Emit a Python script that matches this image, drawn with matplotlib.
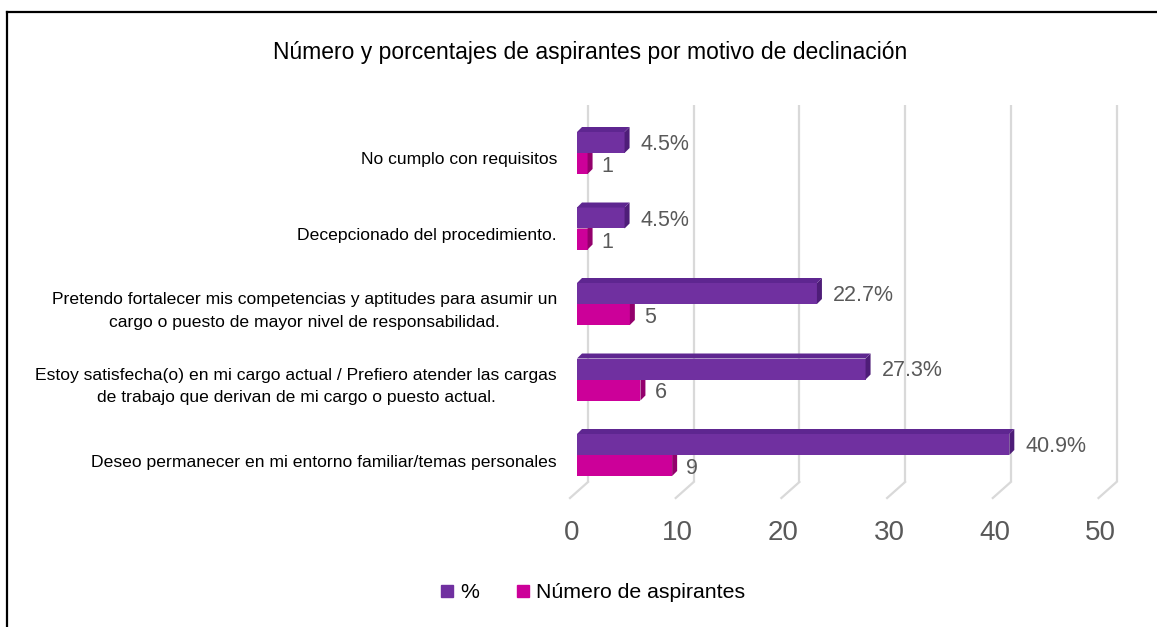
"""Bar chart of declination reasons, styled like an Excel 3D clustered bar."""
import matplotlib
matplotlib.use("Agg")
import matplotlib.pyplot as plt
from matplotlib.lines import Line2D
from matplotlib.patches import Polygon

categories = [
    "Deseo permanecer en mi entorno familiar/temas personales",
    "Estoy satisfecha(o) en mi cargo actual / Prefiero atender las cargas\nde trabajo que derivan de mi cargo o puesto actual.",
    "Pretendo fortalecer mis competencias y aptitudes para asumir un\ncargo o puesto de mayor nivel de responsabilidad.",
    "Decepcionado del procedimiento.",
    "No cumplo con requisitos",
]
pct = [40.9, 27.3, 22.7, 4.5, 4.5]
count = [9, 6, 5, 1, 1]
x_ticks = [0, 10, 20, 30, 40, 50]
title = "Número y porcentajes de aspirantes por motivo de declinación"

PURPLE, PURPLE_DARK, PURPLE_TOP = "#7030A0", "#4e1d78", "#5e2690"
PINK, PINK_DARK = "#CC0099", "#93006c"
GRID = "#d9d9d9"
GRAY = "#595959"
plt.rcParams["font.family"] = ["Liberation Sans Narrow", "Liberation Sans", "DejaVu Sans"]

W, H = 1157, 627
fig = plt.figure(figsize=(W / 100, H / 100), dpi=100)

# plot area in pixels (image coords, y down)
left_px, right_px, top_px, bot_px = 560, 1140, 100, 510
x0_px, sx = 577, 10.57      # pixel of value 0, pixels per unit
y0_px, sy = 455, 75.5       # pixel of first group's boundary, pixels per category
ax = fig.add_axes([left_px / W, 1 - bot_px / H, (right_px - left_px) / W, (bot_px - top_px) / H])
ax.set_xlim((left_px - x0_px) / sx, (right_px - x0_px) / sx)
ax.set_ylim(-(bot_px - y0_px) / sy, (y0_px - top_px) / sy)
ax.axis("off")

px_x = lambda p: p / sx
px_y = lambda p: p / sy

# back-wall gridlines with floor diagonals
back, front = px_x(11), px_x(-7)
y_back, y_front, y_top = px_y(-27), px_y(-43), px_y(350)
for t in x_ticks:
    ax.plot([t + back, t + back], [y_back, y_top], color=GRID, lw=1.6, zorder=1, solid_capstyle="butt")
    ax.plot([t + front, t + back], [y_front, y_back], color=GRID, lw=1.6, zorder=1)
    ax.text(t - px_x(5), px_y(-78), str(t), ha="center", va="center", fontsize=20,
            color=GRAY, clip_on=False)

h = px_y(21)
dx, dy = px_x(5), px_y(5)
ys = list(range(len(categories)))


def box(ax, y, v, hgt, face, side, top, z):
    ax.barh(y, v, height=hgt, left=0, align="edge", color=face, zorder=z, linewidth=0)
    ax.add_patch(Polygon([(v, y), (v + dx, y + dy), (v + dx, y + hgt + dy), (v, y + hgt)],
                         closed=True, color=side, lw=0, zorder=z))
    ax.add_patch(Polygon([(0, y + hgt), (v, y + hgt), (v + dx, y + hgt + dy), (dx, y + hgt + dy)],
                         closed=True, color=top, lw=0, zorder=z))


for y, p, c in zip(ys, pct, count):
    box(ax, y - h, c, h, PINK, PINK_DARK, PINK_DARK, 2)
    box(ax, y, p, h, PURPLE, PURPLE_DARK, PURPLE_TOP, 3)
    ax.text(p + px_x(16), y + h / 2 - px_y(2), f"{p}%", ha="left", va="center",
            fontsize=15.5, color=GRAY)
    ax.text(c + px_x(14), y - h / 2 - px_y(3), str(c), ha="left", va="center",
            fontsize=15.5, color=GRAY)

for y, label in zip(ys, categories):
    ax.text(px_x(557 - x0_px), y - px_y(7), label, ha="right", va="center",
            multialignment="center", fontsize=12.6, color="#000000", clip_on=False,
            linespacing=1.6)

fig.text(590 / W, 1 - 52 / H, title, ha="center", va="center", fontsize=16.5, color="#000000")

handles = [Line2D([], [], marker="s", ls="", color=PURPLE, markersize=9),
           Line2D([], [], marker="s", ls="", color=PINK, markersize=9)]
fig.legend(handles, ["%", "Número de aspirantes"], loc="center", bbox_to_anchor=(593 / W, 1 - 593 / H),
           ncol=2, frameon=False, fontsize=15.3, handlelength=0.6, handletextpad=0.3,
           columnspacing=1.8)

# outer frame (top and left edges only visible)
fig.add_artist(Line2D([7 / W, 1], [1 - 12 / H, 1 - 12 / H], color="black", lw=1.6))
fig.add_artist(Line2D([7 / W, 7 / W], [0, 1 - 12 / H], color="black", lw=1.6))

fig.savefig("out.png", dpi=100)
